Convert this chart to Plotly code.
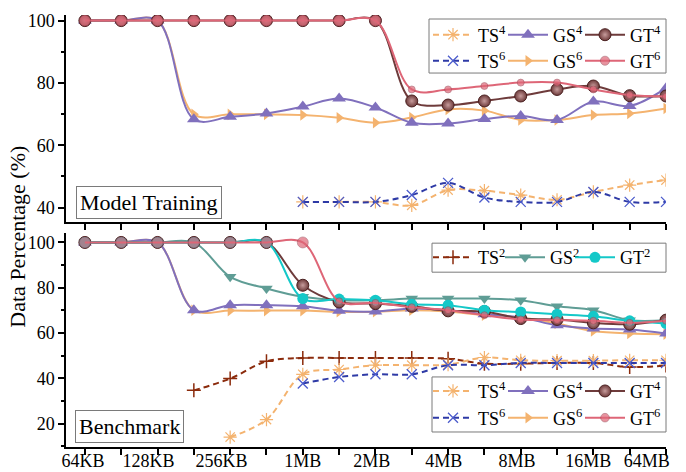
import plotly.graph_objects as go

# ---------------- data ----------------
pos = list(range(17))  # 17 buffer sizes, one point per tick
tick_labels = ["64KB", "128KB", "256KB", "1MB", "2MB", "4MB", "8MB", "16MB", "64MB"]
N = None

# Model Training panel
mt_ts4 = [N, N, N, N, N, N, 41.8, 41.8, 41.8, 40.7, 45.6, 45.4, 44.0, 42.5, 45.0, 47.2, 48.8]
mt_ts6 = [N, N, N, N, N, N, 41.8, 41.8, 41.8, 44.0, 47.9, 43.2, 41.8, 41.8, 45.0, 41.8, 41.8]
mt_gs4 = [100, 100, 100, 68.3, 69.1, 70.2, 72.4, 75.0, 72.1, 67.2, 67.0, 68.4, 69.4, 68.1, 74.0, 72.6, 78.3]
mt_gs6 = [100, 100, 100, 69.9, 69.9, 69.9, 69.7, 68.8, 67.2, 68.9, 71.5, 71.1, 68.1, 68.1, 69.7, 70.2, 71.8]
mt_gt4 = [100, 100, 100, 100, 100, 100, 100, 100, 100, 74.2, 72.9, 74.2, 75.8, 77.9, 79.0, 75.9, 75.8]
mt_gt6 = [100, 100, 100, 100, 100, 100, 100, 100, 100, 77.9, 77.9, 79.0, 80.1, 80.1, 77.9, 76.1, 75.6]

# Benchmark panel
bm_ts2 = [N, N, N, 34.7, 39.9, 47.5, 49.0, 49.0, 49.0, 49.0, 48.7, 46.5, 46.5, 46.8, 46.8, 45.0, 45.7]
bm_ts4 = [N, N, N, N, 14.1, 21.8, 41.8, 43.9, 45.8, 45.8, 46.1, 49.2, 48.0, 47.8, 47.8, 48.0, 48.0]
bm_ts6 = [N, N, N, N, N, N, 37.7, 40.6, 41.8, 41.8, 45.8, 45.8, 46.8, 46.8, 46.8, 46.8, 46.8]
bm_gs2 = [100, 100, 100, 100, 84.8, 79.7, 76.0, 74.5, 74.5, 75.2, 75.2, 75.2, 74.5, 71.8, 70.1, 65.7, 65.7]
bm_gs4 = [100, 100, 100, 70.1, 72.3, 72.3, 71.8, 69.8, 69.5, 70.8, 70.1, 68.3, 66.9, 63.4, 62.0, 61.6, 59.8]
bm_gs6 = [100, 100, 100, 70.1, 69.9, 69.9, 69.9, 69.4, 69.4, 70.1, 69.5, 67.9, 66.9, 64.2, 60.9, 59.8, 59.5]
bm_gt2 = [100, 100, 100, 100, 100, 100, 75.2, 75.0, 74.5, 72.7, 72.3, 70.1, 69.3, 68.3, 67.4, 65.4, 64.2]
bm_gt4 = [100, 100, 100, 100, 100, 100, 81.1, 73.7, 73.0, 71.8, 69.8, 69.5, 66.4, 66.0, 64.5, 63.9, 65.7]
bm_gt6 = [100, 100, 100, 100, 100, 100, 100, 74.0, 73.3, 71.4, 70.1, 67.9, 66.0, 65.7, 65.4, 64.5, 65.4]

# ---------------- styles ----------------
FONT = "Liberation Serif"
C_ORANGE = "#f4b36f"
C_PURPLE = "#8070bd"
C_BROWN = "#6e3b3b"
C_BLUE = "#2e3aa6"
C_BLUE_M = "#4c5ccc"
C_PINK = "#de6677"
C_TEAL = "#5f9d95"
C_CYAN = "#14c8c8"
C_DRED = "#8b2b0c"

DASH = "6px,4px"


def style(kind):
    if kind == "TS2":
        return dict(line=dict(color=C_DRED, width=2, dash=DASH, shape="spline"),
                    marker=dict(symbol="cross-thin-open", size=10, color=C_DRED,
                                line=dict(color=C_DRED, width=1.5)))
    if kind == "TS4":
        return dict(line=dict(color=C_ORANGE, width=2, dash=DASH, shape="spline"),
                    marker=dict(symbol="asterisk-open", size=11, color=C_ORANGE,
                                line=dict(color=C_ORANGE, width=1.2)))
    if kind == "TS6":
        return dict(line=dict(color=C_BLUE, width=2, dash=DASH, shape="spline"),
                    marker=dict(symbol="x-thin-open", size=10, color=C_BLUE_M,
                                line=dict(color=C_BLUE_M, width=1.3)))
    if kind == "GS2":
        return dict(line=dict(color=C_TEAL, width=2, shape="spline"),
                    marker=dict(symbol="triangle-down", size=11, color=C_TEAL))
    if kind == "GS4":
        return dict(line=dict(color=C_PURPLE, width=2, shape="spline"),
                    marker=dict(symbol="triangle-up", size=12, color=C_PURPLE))
    if kind == "GS6":
        return dict(line=dict(color=C_ORANGE, width=2, shape="spline"),
                    marker=dict(symbol="triangle-right", size=10, color=C_ORANGE))
    if kind == "GT2":
        return dict(line=dict(color=C_CYAN, width=2, shape="spline"),
                    marker=dict(symbol="circle", size=11, color=C_CYAN))
    if kind == "GT4":
        return dict(line=dict(color=C_BROWN, width=2, shape="spline"),
                    marker=dict(symbol="circle", size=12, color=C_BROWN,
                                gradient=dict(type="radial", color="#c79c9c"),
                                line=dict(color="#4a2020", width=1)))
    if kind == "GT6":
        return dict(line=dict(color=C_PINK, width=2, shape="spline"),
                    marker=dict(symbol="circle", size=7, color=C_PINK))


def label(kind):
    return kind[:2] + "<sup>" + kind[2:] + "</sup>"


# ---------------- geometry helpers ----------------
W, H = 686, 472
ML, MR, MT, MB = 66, 20, 15, 25.3
PW, PH = W - ML - MR, H - MT - MB


def py(ypx):  # pixel y -> paper y
    return (H - MB - ypx) / PH


def px(xpx):
    return (xpx - ML) / PW


fig = go.Figure()
legends = {}
ITEMW = 40
# text start (px) of each legend column, and row centre (px) of each legend row
COL_TEXT = {"TS": 480, "GS": 555, "GT": 632}
COL_TEXT_B2 = {"TS": 480, "GS": 552, "GT": 622}

leg_common = dict(orientation="h", itemwidth=ITEMW, bgcolor="rgba(0,0,0,0)", borderwidth=0,
                  xanchor="left", yanchor="middle",
                  font=dict(family=FONT, size=18, color="black"),
                  itemclick=False, itemdoubleclick=False)


def add(kind, vals, xa, ya, row_y, cols):
    st = style(kind)
    if kind == "GT6":
        st["marker"]["size"] = [11 if (v is not None and v >= 100) else 7 for v in vals]
        st["marker"]["line"] = dict(color="#8a3a48", width=0.6)
    lid = "legend" if not legends else "legend%d" % (len(legends) + 1)
    legends[lid] = dict(x=px(cols[kind[:2]] - ITEMW - 12), y=py(row_y), **leg_common)
    fig.add_trace(go.Scatter(x=pos, y=vals, mode="lines+markers", name=label(kind),
                             xaxis=xa, yaxis=ya, legend=lid, connectgaps=False,
                             cliponaxis=True, **st))


# top panel (Model Training)
add("TS4", mt_ts4, "x2", "y2", 35, COL_TEXT)
add("TS6", mt_ts6, "x2", "y2", 61, COL_TEXT)
add("GS6", mt_gs6, "x2", "y2", 61, COL_TEXT)
add("GS4", mt_gs4, "x2", "y2", 35, COL_TEXT)
add("GT4", mt_gt4, "x2", "y2", 35, COL_TEXT)
add("GT6", mt_gt6, "x2", "y2", 61, COL_TEXT)

# bottom panel (Benchmark)
add("TS2", bm_ts2, "x", "y", 257.5, COL_TEXT_B2)
add("TS4", bm_ts4, "x", "y", 391, COL_TEXT)
add("TS6", bm_ts6, "x", "y", 417.7, COL_TEXT)
add("GS6", bm_gs6, "x", "y", 417.7, COL_TEXT)
add("GS4", bm_gs4, "x", "y", 391, COL_TEXT)
add("GS2", bm_gs2, "x", "y", 257.5, COL_TEXT_B2)
add("GT4", bm_gt4, "x", "y", 391, COL_TEXT)
add("GT2", bm_gt2, "x", "y", 257.5, COL_TEXT_B2)
add("GT6", bm_gt6, "x", "y", 417.7, COL_TEXT)

# ---------------- layout ----------------
label_pos = [-0.05, 1.75, 3.76, 6.0, 7.9, 9.88, 11.9, 13.86, 15.47]

axis_common = dict(showline=True, linecolor="black", linewidth=1.5, showgrid=False,
                   zeroline=False, tickcolor="black", tickwidth=1.5,
                   tickfont=dict(family=FONT, size=18, color="black"))

fig.update_layout(
    width=W, height=H, autosize=False,
    margin=dict(l=ML, r=MR, t=MT, b=MB, pad=0),
    paper_bgcolor="white", plot_bgcolor="white",
    font=dict(family=FONT, size=18, color="black"),
    xaxis=dict(domain=[0, 1], anchor="y", range=[-0.52, 16], automargin=False,
               tickvals=label_pos, ticktext=tick_labels, ticks="", ticklen=0,
               ticklabelstandoff=-3,
               minor=dict(tickvals=pos, ticks="outside", ticklen=6, tickwidth=1.5,
                          tickcolor="black", showgrid=False),
               **axis_common),
    yaxis=dict(domain=[0, py(233)], anchor="x", range=[9.7, 104.1], automargin=False,
               tickvals=[20, 40, 60, 80, 100], ticks="outside", ticklen=6,
               minor=dict(dtick=10, tick0=0, ticks="outside", ticklen=3, tickwidth=1.5,
                          tickcolor="black", showgrid=False),
               **axis_common),
    xaxis2=dict(domain=[0, 1], anchor="y2", range=[-0.52, 16], automargin=False,
                tickvals=pos, ticks="outside", ticklen=6, showticklabels=False,
                **axis_common),
    yaxis2=dict(domain=[py(221.7), 1], anchor="x2", range=[35.4, 101.8], automargin=False,
                tickvals=[40, 60, 80, 100], ticks="outside", ticklen=6,
                minor=dict(dtick=10, tick0=0, ticks="outside", ticklen=3, tickwidth=1.5,
                           tickcolor="black", showgrid=False),
                **axis_common),
    showlegend=True,
    **legends,
)

box_line = dict(color="#7a7a7a", width=1)
shapes = [
    dict(type="rect", xref="paper", yref="paper", x0=px(429), x1=px(666), y0=py(73), y1=py(19), line=box_line),
    dict(type="rect", xref="paper", yref="paper", x0=px(432), x1=px(666), y0=py(272), y1=py(243), line=box_line),
    dict(type="rect", xref="paper", yref="paper", x0=px(432), x1=px(666), y0=py(431.7), y1=py(376.7), line=box_line),
]
fig.update_layout(shapes=shapes)

annots = [
    dict(text="Data Percentage (%)", x=px(18), y=py(236.5), xref="paper", yref="paper",
         showarrow=False, textangle=-90, xanchor="center", yanchor="middle",
         font=dict(family=FONT, size=22, color="black")),
    dict(text="Model Training", x=px(75.7), y=py(218.7), xref="paper", yref="paper",
         showarrow=False, xanchor="left", yanchor="bottom", bordercolor="#7a7a7a",
         borderwidth=1, borderpad=3, bgcolor="white",
         font=dict(family=FONT, size=22, color="black")),
    dict(text="Benchmark", x=px(75), y=py(442.3), xref="paper", yref="paper",
         showarrow=False, xanchor="left", yanchor="bottom", bordercolor="#7a7a7a",
         borderwidth=1, borderpad=3, bgcolor="white",
         font=dict(family=FONT, size=22, color="black")),
]
fig.update_layout(annotations=annots)

fig.write_html("out.html")
